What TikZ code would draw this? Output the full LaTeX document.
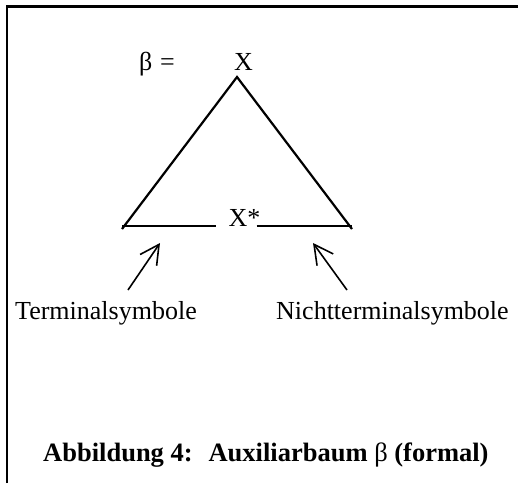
\documentclass[tikz,border=0pt]{standalone}
\usepackage{fontspec}
\setmainfont{Liberation Serif}
\usepackage{tikz}
\usetikzlibrary{arrows.meta, positioning, calc}

\begin{document}
\begin{tikzpicture}[
  x=1pt, y=-1pt,
  txt/.style={inner sep=0pt, font=\fontsize{26}{31}\selectfont},
  caption/.style={txt, font=\fontsize{26.5}{31}\selectfont\bfseries},
  edge/.style={line width=2.2pt},
  frame/.style={line width=2.8pt},
  arrow/.style={line width=1.6pt, -{Straight Barb[length=19pt, width=20pt]}}
]
\useasboundingbox (0,0) rectangle (518,483);

%% Frame (top and left edge)
\draw[frame] (7,483) |- (518,6.5);

%% Tree beta
\node[txt, anchor=base west] (beta) at (139,70) {β\hspace{0.3em}=};
\node[txt, anchor=base] (root) at (243.5,70) {X};
\node[txt, anchor=base] (foot) at (244.5,226) {X*};

\coordinate (apex) at (237,77);
\coordinate (bl) at (122,226);
\coordinate (br) at (352,226);

\draw[edge] ($(bl)+(0,3)$) -- (apex) -- ($(br)+(0,3)$);
\draw[edge] (bl) -- ([xshift=-12pt]foot.base west);
\draw[edge] ([xshift=-4pt]foot.base east) -- (br);

%% Labels with arrows
\node[txt, anchor=base west] (term) at (15,319) {Terminalsymbole};
\node[txt, anchor=base west] (nonterm) at (276,319) {Nichtterminalsymbole};

\coordinate (ltail) at (128,290);
\coordinate (lhead) at (160,243);
\coordinate (rtail) at (347,290);
\coordinate (rhead) at (313,243);
\draw[arrow] (ltail) -- (lhead);
\draw[arrow] (rtail) -- (rhead);

%% Caption
\node[caption, anchor=base west] (cap) at (43,461)
  {Abbildung 4:\hspace{0.6em}Auxiliarbaum {\mdseries β} (formal)};

\end{tikzpicture}
\end{document}
